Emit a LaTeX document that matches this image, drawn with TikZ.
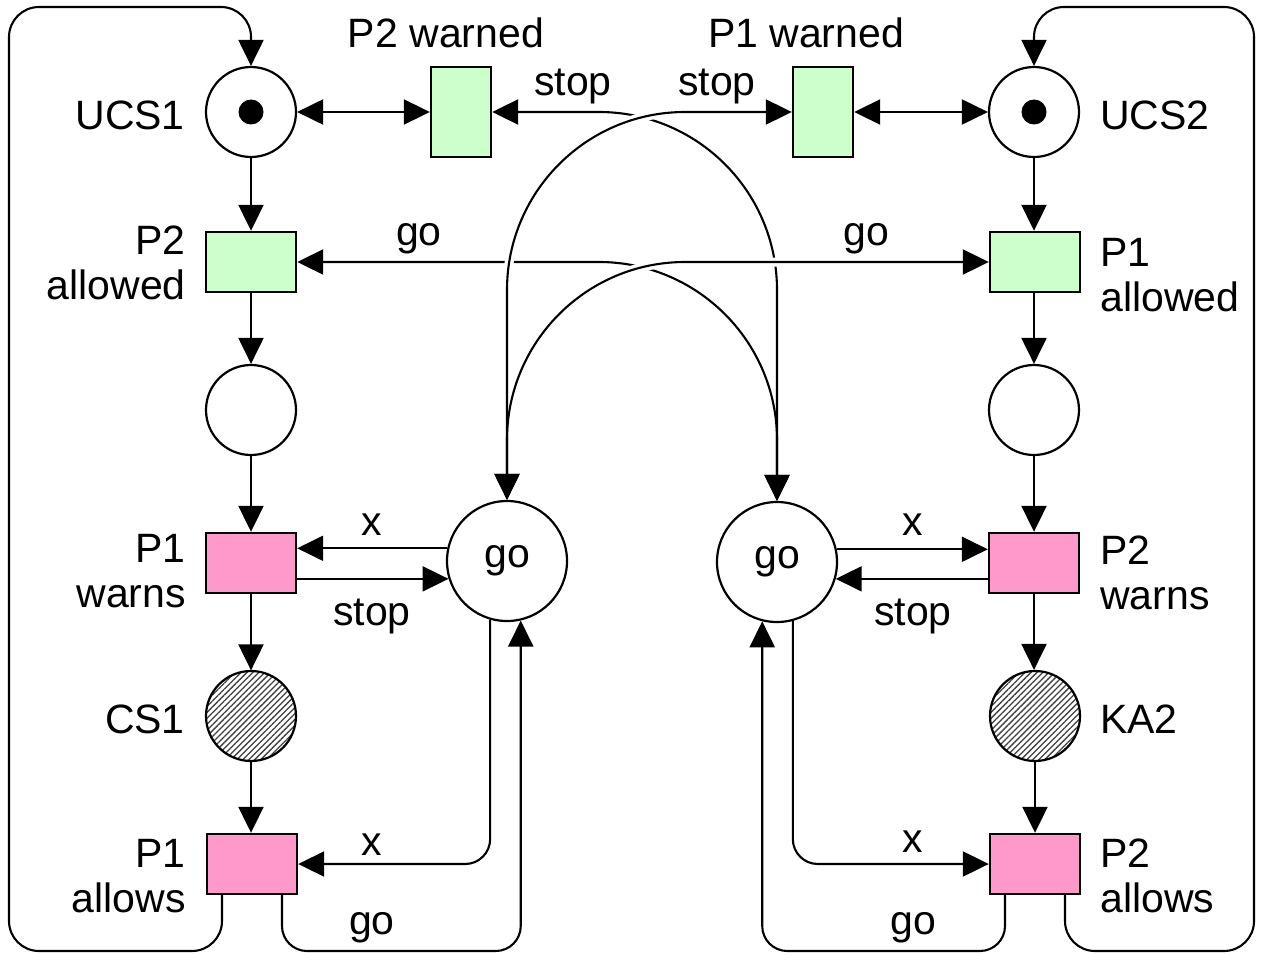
\documentclass[tikz,border=0pt]{standalone}
\usepackage{fontspec}
\setmainfont{Liberation Sans}
\usetikzlibrary{arrows.meta,patterns.meta}
\definecolor{tgreen}{HTML}{CCFFCC}
\definecolor{tpink}{HTML}{FF99CC}
\tikzset{
  >={Triangle[length=26pt,width=25pt]},
  lbl/.style={font=\fontsize{41pt}{45pt}\selectfont, inner sep=0pt},
  place/.style={circle, draw, line width=2.2pt, minimum size=90pt, inner sep=0pt, fill=white},
  goplace/.style={place, minimum size=120pt, font=\fontsize{41pt}{45pt}\selectfont},
  hatched/.style={place, pattern={Lines[angle=45,distance=4.2pt,line width=1.3pt]}, pattern color=black!75},
  token/.style={circle, fill=black, minimum size=25pt, inner sep=0pt},
  transh/.style={rectangle, draw, line width=2.4pt, minimum width=90pt, minimum height=60pt, inner sep=0pt},
  transv/.style={rectangle, draw, line width=2.4pt, minimum width=60pt, minimum height=90pt, inner sep=0pt},
  arc/.style={line width=2.1pt},
  halo/.style={draw=white, line width=9pt},
}
\begin{document}
\begin{tikzpicture}[x=1pt,y=1pt]
\useasboundingbox (0,0) rectangle (1263,-955);

% ---------- left column ----------
\node[place] (u1) at (251,-112) {};
\node[token] (tk1) at (u1) {};
\node[transh, fill=tgreen] (a2) at (251,-262) {};
\node[place] (p1) at (251,-410) {};
\node[transh, fill=tpink] (wa1) at (251,-563) {};
\node[hatched] (cs1) at (251,-716) {};
\node[transh, fill=tpink] (al1) at (252,-864) {};

% ---------- right column ----------
\node[place] (u2) at (1034,-112) {};
\node[token] (tk2) at (u2) {};
\node[transh, fill=tgreen] (a1) at (1035,-262) {};
\node[place] (p2) at (1034,-410) {};
\node[transh, fill=tpink] (wa2) at (1034,-563) {};
\node[hatched] (ka2) at (1035,-716) {};
\node[transh, fill=tpink] (al2) at (1035,-864) {};

% ---------- warned transitions ----------
\node[transv, fill=tgreen] (w2) at (461,-112) {};
\node[transv, fill=tgreen] (w1) at (823,-112) {};

% ---------- go places ----------
\node[goplace] (gl) at (507,-561) {go};
\node[goplace] (gr) at (777,-562) {go};

% ---------- labels ----------
\node[lbl, anchor=base east] (lu1) at (185,-130) {UCS1};
\node[lbl, anchor=base west] (lu2) at (1100,-130) {UCS2};
\node[lbl, anchor=base] (lw2) at (446,-48) {P2 warned};
\node[lbl, anchor=base] (lw1) at (806,-48) {P1 warned};
\node[lbl, anchor=base] (ls1) at (573,-96) {stop};
\node[lbl, anchor=base] (ls2) at (717,-96) {stop};
\node[lbl, anchor=base] (lg1) at (419,-245) {go};
\node[lbl, anchor=base] (lg2) at (866,-245) {go};
\node[lbl, anchor=east, align=right] (la2) at (186,-263) {P2\\allowed};
\node[lbl, anchor=west, align=left] (la1) at (1100,-275) {P1\\allowed};
\node[lbl, anchor=east, align=right] (lwa1) at (186,-571) {P1\\warns};
\node[lbl, anchor=west, align=left] (lwa2) at (1100,-573) {P2\\warns};
\node[lbl, anchor=base east] (lcs1) at (185,-733) {CS1};
\node[lbl, anchor=base west] (lka2) at (1100,-733) {KA2};
\node[lbl, anchor=east, align=right] (lal1) at (186,-876) {P1\\allows};
\node[lbl, anchor=west, align=left] (lal2) at (1100,-876) {P2\\allows};
\node[lbl, anchor=base] (lx1) at (372,-535) {x};
\node[lbl, anchor=base] (lst1) at (372,-625) {stop};
\node[lbl, anchor=base] (lx2) at (372,-855) {x};
\node[lbl, anchor=base] (lgo1) at (372,-934) {go};
\node[lbl, anchor=base] (lx3) at (913,-535) {x};
\node[lbl, anchor=base] (lst2) at (913,-625) {stop};
\node[lbl, anchor=base] (lx4) at (913,-852) {x};
\node[lbl, anchor=base] (lgo2) at (913,-934) {go};

% ---------- column arcs ----------
\draw[arc,->] (u1) -- (a2);
\draw[arc,->] (a2) -- (p1);
\draw[arc,->] (p1) -- (wa1);
\draw[arc,->] (wa1) -- (cs1);
\draw[arc,->] (cs1) -- (al1.north -| cs1);
\draw[arc,->] (u2) -- (a1.north -| u2);
\draw[arc,->] (a1.south -| p2) -- (p2);
\draw[arc,->] (p2) -- (wa2);
\draw[arc,->] (wa2) -- (ka2.north -| wa2);
\draw[arc,->] (ka2) -- (al2);

% ---------- read arcs with UCS ----------
\draw[arc,<->] (u1) -- (w2);
\draw[arc,<->] (w1) -- (u2);

% ---------- go place <-> warns ----------
\draw[arc,->] (gl.168) -- (gl.168 -| wa1.east);
\draw[arc,->] (gl.197 -| wa1.east) -- (gl.197);
\draw[arc,->] (gr.12) -- (gr.12 -| wa2.west);
\draw[arc,->] (gr.-16 -| wa2.west) -- (gr.-16);

% ---------- go place <-> allows ----------
\coordinate (LB) at (9,-951);
\coordinate (LT) at (9,-7);
\coordinate (RB) at (1254,-951);
\coordinate (RT) at (1254,-7);
\coordinate (GB1) at (gl.283.5 |- LB);
\coordinate (GB2) at (gr.256.7 |- RB);
\draw[arc,->,rounded corners=25pt] (gl.254.5) |- (al1.east);
\draw[arc,->,rounded corners=25pt] (gr.285) |- (al2.west);
\draw[arc,->,rounded corners=25pt] ([xshift=30pt]al1.south) |- (GB1) -- (gl.283.5);
\draw[arc,->,rounded corners=25pt] ([xshift=-30pt]al2.south) |- (GB2) -- (gr.256.7);

% ---------- outer loops ----------
\draw[arc,->,rounded corners=30pt] ([xshift=-30pt]al1.south) |- (LB) -- (LT) -| (u1.north);
\draw[arc,->,rounded corners=30pt] ([xshift=30pt]al2.south) |- (RB) -- (RT) -| (u2.north);

% ---------- crossing arcs ----------
\coordinate (Bv) at (777,-290);
\coordinate (Dv) at (777,-440);
\coordinate (Av) at (507,-290);
\coordinate (Cv) at (507,-440);
% B: right go <-> P2 warned
\draw[arc,<->] (gr.north) -- (Bv) arc[start angle=0, end angle=90, radius=178pt] -- (w2.east);
% D: right go <-> P2 allowed
\draw[arc,<->] (gr.north) -- (Dv) arc[start angle=0, end angle=90, radius=178pt] -- (a2.east);
% halos for A and C
\path[halo] (Av) arc[start angle=180, end angle=90, radius=178pt] -- ++(20,0);
\path[halo] ([yshift=40pt]Cv) -- (Cv) arc[start angle=180, end angle=90, radius=178pt] -- ++(150,0);
% A: left go <-> P1 warned
\draw[arc,<->] (gl.north) -- (Av) arc[start angle=180, end angle=90, radius=178pt] -- (w1.west);
% C: left go <-> P1 allowed
\draw[arc,<->] (gl.north) -- (Cv) arc[start angle=180, end angle=90, radius=178pt] -- (a1.west);
\end{tikzpicture}
\end{document}
